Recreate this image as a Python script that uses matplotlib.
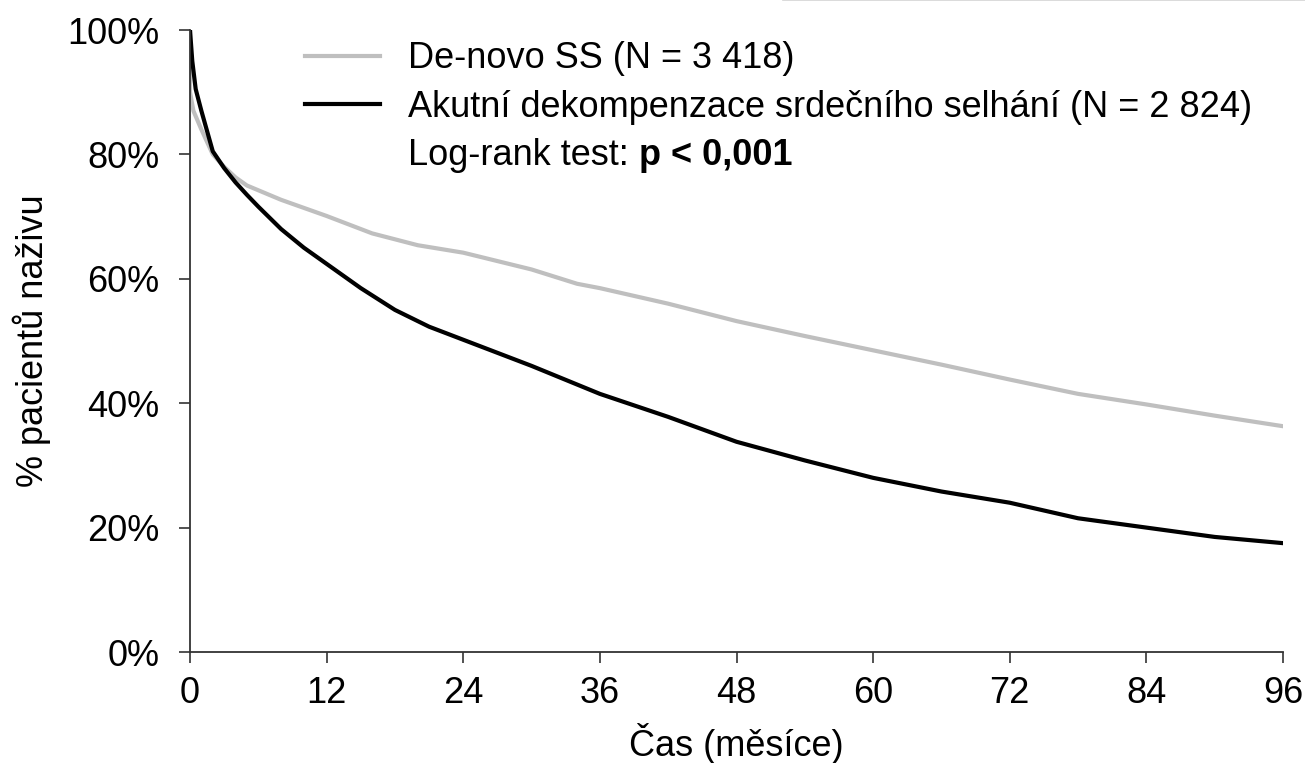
import matplotlib
matplotlib.use("Agg")
import matplotlib.pyplot as plt
from matplotlib.lines import Line2D

plt.rcParams['font.family'] = ['Liberation Sans', 'DejaVu Sans']

# Data (months, % alive)
months_denovo = [0, 0, 0.3, 1, 2, 3, 4, 5, 8, 12, 16, 20, 24, 30, 34, 36, 42, 48, 54, 60, 66, 72, 78, 84, 90, 96]
surv_denovo = [100, 90, 87, 84, 80, 78, 76.3, 75, 72.7, 70.1, 67.3, 65.4, 64.2, 61.5, 59.2, 58.5, 56, 53.2, 50.8, 48.5, 46.2, 43.8, 41.5, 39.8, 38, 36.3]

months_adhf = [0, 0.2, 0.5, 1, 2, 3, 4, 5, 6, 8, 10, 12, 15, 18, 21, 24, 30, 36, 42, 48, 54, 60, 66, 72, 78, 84, 90, 96]
surv_adhf = [100, 95, 90.5, 87, 80.5, 77.8, 75.5, 73.5, 71.6, 68, 65, 62.4, 58.5, 55, 52.3, 50.2, 46, 41.5, 37.8, 33.8, 30.8, 28, 25.8, 24, 21.5, 20, 18.5, 17.5]

label_denovo = "De-novo SS (N = 3 418)"
label_adhf = "Akutní dekompenzace srdečního selhání (N = 2 824)"
x_ticks = [0, 12, 24, 36, 48, 60, 72, 84, 96]
y_ticks = [0, 20, 40, 60, 80, 100]
y_ticklabels = ["0%", "20%", "40%", "60%", "80%", "100%"]

FS = 26

fig = plt.figure(figsize=(13.05, 7.63), dpi=100)
ax = fig.add_axes([190/1305, 1-652/763, (1283-190)/1305, (652-30)/763])

ax.plot(months_denovo, surv_denovo, color='#BFBFBF', lw=3, label=label_denovo, solid_joinstyle='round')
ax.plot(months_adhf, surv_adhf, color='black', lw=3, label=label_adhf, solid_joinstyle='round')

ax.set_xlim(0, 96)
ax.set_ylim(0, 100)
ax.set_xticks(x_ticks)
ax.set_yticks(y_ticks)
ax.set_yticklabels(y_ticklabels)
for s in ['top', 'right']:
    ax.spines[s].set_visible(False)
for s in ['left', 'bottom']:
    ax.spines[s].set_color('#333333')
    ax.spines[s].set_linewidth(1.3)
ax.tick_params(axis='both', direction='out', length=8, width=1.2, color='#333333',
               labelsize=FS)
ax.tick_params(axis='x', pad=9)
ax.tick_params(axis='y', pad=14)
ax.set_xlabel("Čas (měsíce)", fontsize=FS, labelpad=9)
ax.set_ylabel("% pacientů naživu", fontsize=FS, labelpad=12)

leg = ax.legend(loc='upper left', bbox_to_anchor=(0.092, 1.005), frameon=False,
                fontsize=FS, handlelength=2.08, handletextpad=0.78, labelspacing=0.37,
                borderaxespad=0.0)
t1 = ax.text(0.1995, 0.7976, "Log-rank test: ", transform=ax.transAxes, fontsize=FS, va='center')
ax.annotate("p < 0,001", xy=(1, 0), xycoords=t1, fontsize=FS, fontweight='bold', va='bottom')

fig.add_artist(Line2D([783/1305, 1.0], [0.9995, 0.9995], transform=fig.transFigure,
                      color='#d4d4d4', lw=1.2))

fig.savefig("out.png", dpi=100)
